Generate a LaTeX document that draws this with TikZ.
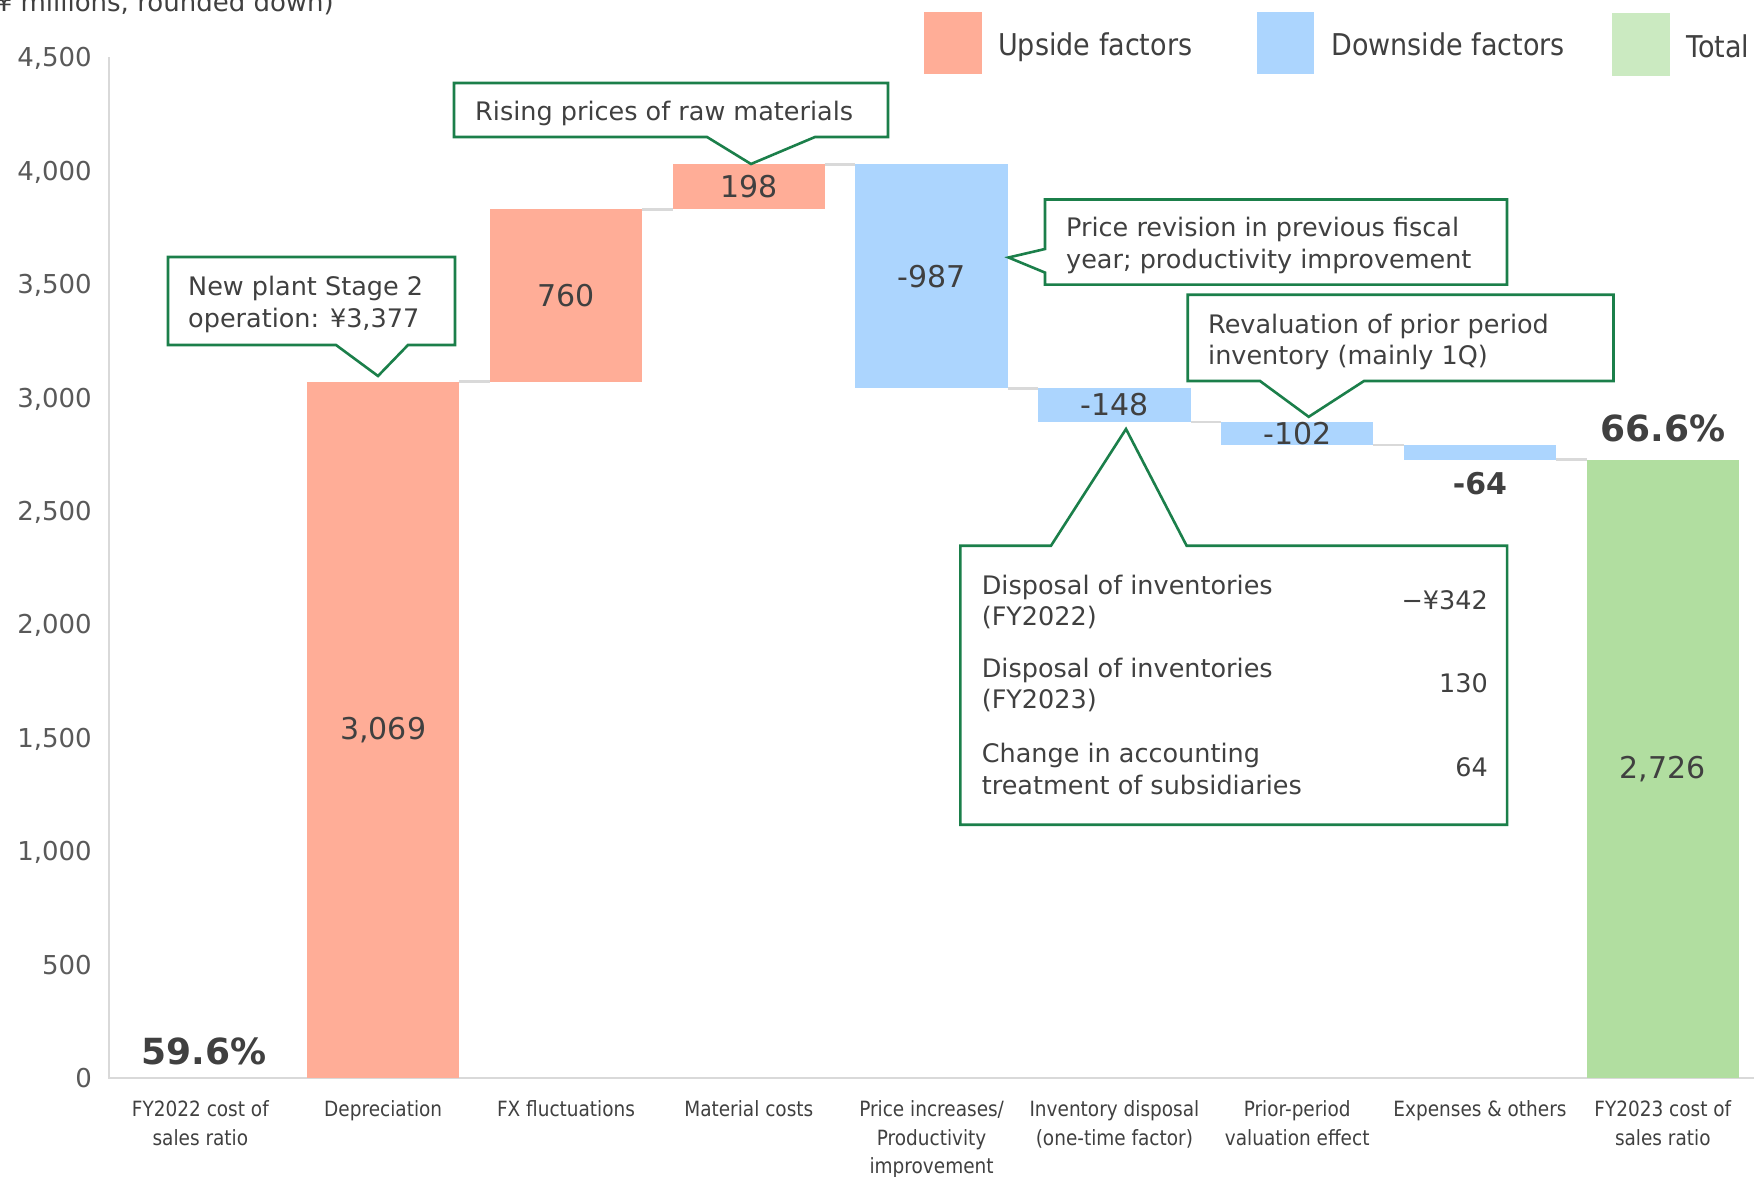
\documentclass[tikz,border=0pt]{standalone}
\usepackage{fontspec}
\setmainfont{DejaVu Sans}
\newfontfamily\narrowfont[FakeStretch=0.88]{DejaVu Sans}
\newfontfamily\keyfont[FakeStretch=0.9]{DejaVu Sans}
\definecolor{upcol}{HTML}{FFAD97}
\definecolor{downcol}{HTML}{ACD5FE}
\definecolor{totcol}{HTML}{B1DEA0}
\definecolor{totkey}{HTML}{CBEAC1}
\definecolor{calloutcol}{HTML}{1B7F4A}
\definecolor{textcol}{HTML}{404040}
\definecolor{axiscol}{HTML}{D9D9D9}
\definecolor{tickcol}{HTML}{595959}

\begin{document}
\begin{tikzpicture}[x=1pt,y=-1pt,
	every node/.style={text=textcol,inner sep=0pt},
	callout/.style={draw=calloutcol,line width=2.6pt,fill=white},
	note/.style={font=\fontsize{25.5}{31.5}\selectfont,align=left,anchor=west},
	value/.style={font=\fontsize{30}{36}\selectfont},
	ratio/.style={font=\fontsize{36}{42}\selectfont\bfseries},
	tick/.style={font=\fontsize{26}{30}\selectfont,text=tickcol,anchor=east,text depth=0pt},
	category/.style={font=\narrowfont\fontsize{21}{28.5}\selectfont,align=center,anchor=north},
	keytext/.style={font=\keyfont\fontsize{30}{36}\selectfont,anchor=base west}]
	\useasboundingbox (0,0) rectangle (1757,1177);
	\node[anchor=base east,font=\fontsize{26}{30}\selectfont] (unit) at (334,12) {(¥ millions, rounded down)};
	\begin{scope}[shift={(109,1078)},x=182.8pt,y=0.22689pt]
	\draw[axiscol,line width=2.5pt] (0,4500) -- (0,0) -- (9,0);
	\foreach \v/\t in {0/0,500/500,1000/{1,000},1500/{1,500},2000/{2,000},2500/{2,500},3000/{3,000},3500/{3,500},4000/{4,000},4500/{4,500}}
		\node[tick] (tick\v) at (-0.093,\v) {\t};
	\foreach \i/\a/\b/\c in {1/0/3069/upcol,2/3069/3829/upcol,3/3829/4027/upcol,4/4027/3040/downcol,5/3040/2892/downcol,6/2892/2790/downcol,7/2790/2726/downcol,8/0/2726/totcol}
		\fill[\c] (\i+0.0832,\a) rectangle (\i+0.9168,\b);
	\foreach \i/\v in {1/3069,2/3829,3/4027,4/3040,5/2892,6/2790,7/2726}
		\draw[axiscol,line width=2.5pt] (\i+0.9168,\v) -- (\i+1.0832,\v);
	\node[value] (dep) at (1.5,1534.5) {3,069};
	\node[value] (fx) at (2.5,3449) {760};
	\node[value] (mat) at (3.5,3928) {198};
	\node[value] (price) at (4.5,3533.5) {-987};
	\node[value] (inv) at (5.5,2966) {-148};
	\node[value] (prior) at (6.5,2841) {-102};
	\node[value,font=\fontsize{30}{36}\selectfont\bfseries] (exp) at (7.5,2618) {-64};
	\node[value] (tot) at (8.5,1363) {2,726};
	\node[ratio] (ratio22) at (0.52,119) {59.6\%};
	\node[ratio] (ratio23) at (8.5,2865) {66.6\%};
	\end{scope}
	\foreach \i/\t in {0/{FY2022 cost of\\sales ratio},1/Depreciation,2/FX fluctuations,3/Material costs,4/{Price increases/\\Productivity\\improvement},5/{Inventory disposal\\(one-time factor)},6/{Prior-period\\valuation effect},7/Expenses \& others,8/{FY2023 cost of\\sales ratio}}
		\node[category] (cat\i) at ({109+182.8*(\i+0.5)},1100.5) {\t};
	\fill[upcol] (924,12) rectangle (982,74);
	\node[keytext] (keyup) at (998,56) {Upside factors};
	\fill[downcol] (1257,12) rectangle (1314,74);
	\node[keytext] (keydown) at (1331,56) {Downside factors};
	\fill[totkey] (1612,13) rectangle (1670,76);
	\node[keytext] (keytot) at (1686,58) {Total};
	\draw[callout] (168,257) -- (455,257) -- (455,345) -- (408,345) -- (378,376) -- (336,345) -- (168,345) -- cycle;
	\node[note] (plant) at (188,304.5) {New plant Stage 2\\operation: ¥3,377};
	\draw[callout] (454,83) -- (888,83) -- (888,137) -- (815,137) -- (751,164) -- (707,137) -- (454,137) -- cycle;
	\node[note] (raw) at (475,113) {Rising prices of raw materials};
	\draw[callout] (1045,199.5) -- (1507,199.5) -- (1507,284.6) -- (1045,284.6) -- (1045,272.6) -- (1008.5,257.5) -- (1045,249) -- cycle;
	\node[note] (revision) at (1066,245.5) {Price revision in previous fiscal\\year; productivity improvement};
	\draw[callout] (1187.7,294.7) -- (1613.5,294.7) -- (1613.5,381) -- (1364,381) -- (1308.7,416.8) -- (1260,381) -- (1187.7,381) -- cycle;
	\node[note] (reval) at (1208,342) {Revaluation of prior period\\inventory (mainly 1Q)};
	\draw[callout] (960.3,545.7) -- (1051,545.7) -- (1126,429) -- (1186.6,545.7) -- (1507.1,545.7) -- (1507.1,824.7) -- (960.3,824.7) -- cycle;
	\node[note] (disp22) at (981.6,602) {Disposal of inventories\\(FY2022)};
	\node[note,anchor=east] (val22) at (1488,600.5) {−¥342};
	\node[note] (disp23) at (981.6,685) {Disposal of inventories\\(FY2023)};
	\node[note,anchor=east] (val23) at (1488,683.5) {130};
	\node[note] (change) at (981.6,769) {Change in accounting\\treatment of subsidiaries};
	\node[note,anchor=east] (valch) at (1488,767.5) {64};
\end{tikzpicture}
\end{document}
